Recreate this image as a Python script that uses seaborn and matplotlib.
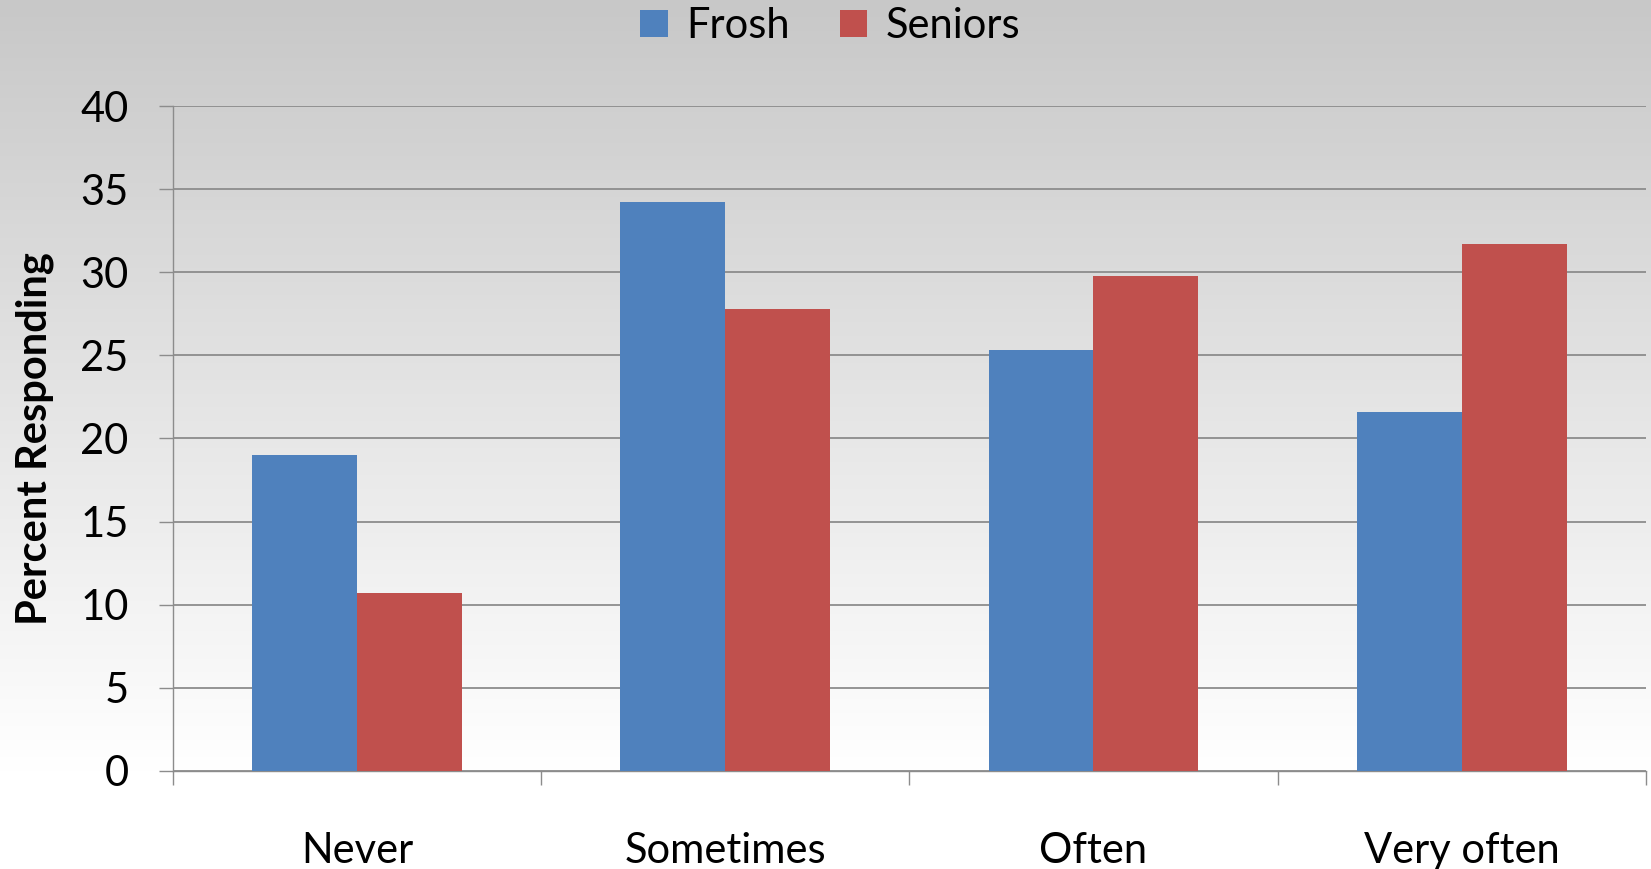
import numpy as np
import pandas as pd
import seaborn as sns
import matplotlib.pyplot as plt
from matplotlib.patches import Patch

# Datos del gráfico
categorias = ['Never', 'Sometimes', 'Often', 'Very often']
frosh = [19.0, 34.2, 25.3, 21.6]
seniors = [10.7, 27.8, 29.8, 31.7]
grupos = ['Frosh', 'Seniors']
colores = ['#4F81BD', '#C0504D']

df = pd.DataFrame({
    'Categoria': categorias * 2,
    'Grupo': ['Frosh'] * 4 + ['Seniors'] * 4,
    'Porcentaje': frosh + seniors,
})

sns.set_style('white')
plt.rcParams['font.family'] = ['Lato', 'DejaVu Sans']
plt.rcParams['text.color'] = 'black'
plt.rcParams['axes.labelcolor'] = 'black'
plt.rcParams['xtick.labelcolor'] = 'black'
plt.rcParams['ytick.labelcolor'] = 'black'

fig = plt.figure(figsize=(16.51, 8.69), dpi=100)

# Fondo degradado gris -> blanco
bg = fig.add_axes([0, 0, 1, 1], zorder=-10)
grad = np.clip(np.linspace(200, 262, 256), 0, 255) / 255.0
bg.imshow(np.repeat(grad[:, None], 2, axis=1)[:, :, None].repeat(3, axis=2),
          aspect='auto', extent=[0, 1, 0, 1], origin='upper')
bg.axis('off')

ax = fig.add_axes([0.1048, 0.113, 0.892, 0.765])
ax.patch.set_alpha(0)

sns.barplot(data=df, x='Categoria', y='Porcentaje', hue='Grupo',
            palette=colores, saturation=1, width=0.57, ax=ax,
            edgecolor='none', zorder=3)

ax.set_ylim(0, 40)
ax.set_xlim(-0.5, 3.5)
ax.set_yticks(range(0, 41, 5))
ax.yaxis.grid(True, color='#8c8c8c', linewidth=1.3, zorder=0)
ax.set_axisbelow(True)

for s in ['top', 'right']:
    ax.spines[s].set_visible(False)
for s in ['left', 'bottom']:
    ax.spines[s].set_color('#8c8c8c')
    ax.spines[s].set_linewidth(1.0)

ax.tick_params(axis='y', length=10, color='#8c8c8c', width=1, pad=22,
               labelsize=30, left=True)
ax.tick_params(axis='x', which='major', length=0, pad=44, labelsize=30)
ax.set_xticks(np.arange(-0.5, 4, 1), minor=True)
ax.tick_params(axis='x', which='minor', length=10, color='#8c8c8c', width=1,
               bottom=True)

ax.set_xlabel('')
ax.set_ylabel('Percent Responding', fontsize=30, fontweight='bold')
ax.yaxis.set_label_coords(-0.081, 0.5)

ax.get_legend().remove()
handles = [Patch(facecolor=c, edgecolor='none') for c in colores]
fig.legend(handles, grupos, loc='center', bbox_to_anchor=(0.503, 0.970),
           ncol=2, frameon=False, fontsize=30, handlelength=0.65,
           handleheight=0.65, handletextpad=0.45, columnspacing=1.2)

fig.savefig('out.png', dpi=100)
